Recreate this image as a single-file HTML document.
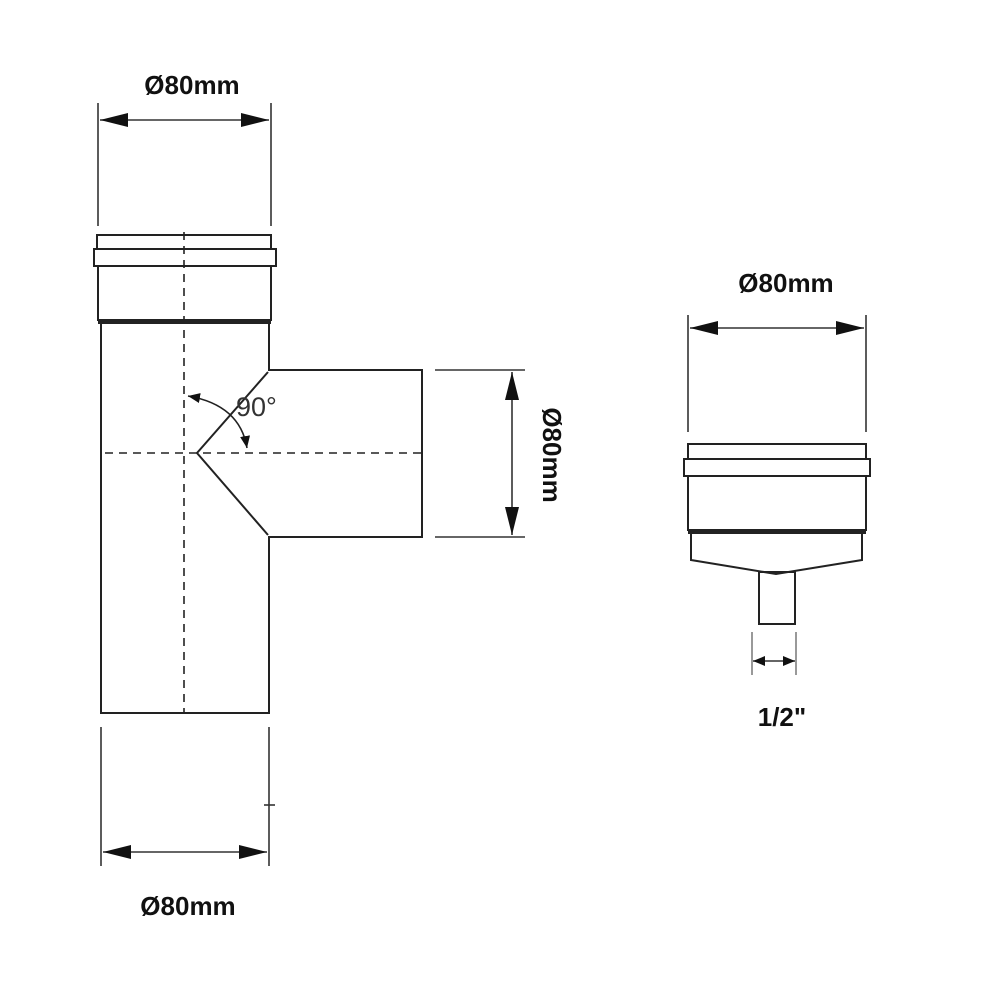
<!DOCTYPE html>
<html><head><style>html,body{margin:0;padding:0;background:#fff}svg{display:block}</style></head>
<body>
<svg width="1000" height="1000" viewBox="0 0 1000 1000" xmlns="http://www.w3.org/2000/svg">
<defs>
<marker id="ah" viewBox="0 0 28 14" refX="28" refY="7" markerWidth="28" markerHeight="14" markerUnits="userSpaceOnUse" orient="auto-start-reverse"><path d="M0,0 L28,7 L0,14 Z" fill="#111"/></marker>
<marker id="sm" viewBox="0 0 12 10" refX="12" refY="5" markerWidth="12" markerHeight="10" markerUnits="userSpaceOnUse" orient="auto-start-reverse"><path d="M0,0 L12,5 L0,10 Z" fill="#111"/></marker>
</defs>
<g fill="none" stroke="#222" stroke-width="2">
<rect x="97" y="235" width="174" height="14"/>
<rect x="94" y="249" width="182" height="17"/>
<rect x="98" y="266" width="173" height="54"/>
<line x1="98" y1="322" x2="271" y2="322" stroke-width="4"/>
<path d="M101,324 V713 H269 V537 H422 V370 H269 V324"/>
<path d="M268,372 L197,453 L268,535"/>
</g>
<g stroke="#222" stroke-width="1.6" stroke-dasharray="8,6" fill="none">
<line x1="184" y1="232" x2="184" y2="713"/>
<line x1="105" y1="453" x2="422" y2="453"/>
</g>
<path d="M188,396 Q240,405 247,448" fill="none" stroke="#222" stroke-width="1.6" marker-start="url(#sm)" marker-end="url(#sm)"/>
<text x="236" y="416" font-family="Liberation Sans, sans-serif" font-size="27" fill="#333">90°</text>
<g stroke="#333" stroke-width="1.6">
<line x1="98" y1="103" x2="98" y2="226"/>
<line x1="271" y1="103" x2="271" y2="226"/>
<line x1="100" y1="120" x2="269" y2="120" marker-start="url(#ah)" marker-end="url(#ah)"/>
<line x1="435" y1="370" x2="525" y2="370"/>
<line x1="435" y1="537" x2="525" y2="537"/>
<line x1="512" y1="372" x2="512" y2="535" marker-start="url(#ah)" marker-end="url(#ah)"/>
<line x1="101" y1="727" x2="101" y2="866"/>
<line x1="269" y1="727" x2="269" y2="866"/>
<line x1="264" y1="805" x2="275" y2="805"/>
<line x1="103" y1="852" x2="267" y2="852" marker-start="url(#ah)" marker-end="url(#ah)"/>
</g>
<g font-family="Liberation Sans, sans-serif" font-weight="bold" font-size="26" fill="#111" text-anchor="middle">
<text x="192" y="94">Ø80mm</text>
<text x="188" y="915">Ø80mm</text>
<text x="786" y="292">Ø80mm</text>
<text transform="translate(543,455) rotate(90)">Ø80mm</text>
<text x="782" y="726">1/2"</text>
</g>
<g fill="none" stroke="#222" stroke-width="2">
<rect x="688" y="444" width="178" height="15"/>
<rect x="684" y="459" width="186" height="17"/>
<rect x="688" y="476" width="178" height="54"/>
<line x1="688" y1="532" x2="866" y2="532" stroke-width="4"/>
<path d="M691,534 V560 L776,574 L862,560 V534"/>
<rect x="759" y="572" width="36" height="52"/>
</g>
<g stroke="#333" stroke-width="1.6">
<line x1="688" y1="315" x2="688" y2="432"/>
<line x1="866" y1="315" x2="866" y2="432"/>
<line x1="690" y1="328" x2="864" y2="328" marker-start="url(#ah)" marker-end="url(#ah)"/>
<line x1="752" y1="632" x2="752" y2="675" stroke-width="1"/>
<line x1="796" y1="632" x2="796" y2="675" stroke-width="1"/>
<line x1="753" y1="661" x2="795" y2="661" marker-start="url(#sm)" marker-end="url(#sm)"/>
</g>
</svg>
</body></html>
